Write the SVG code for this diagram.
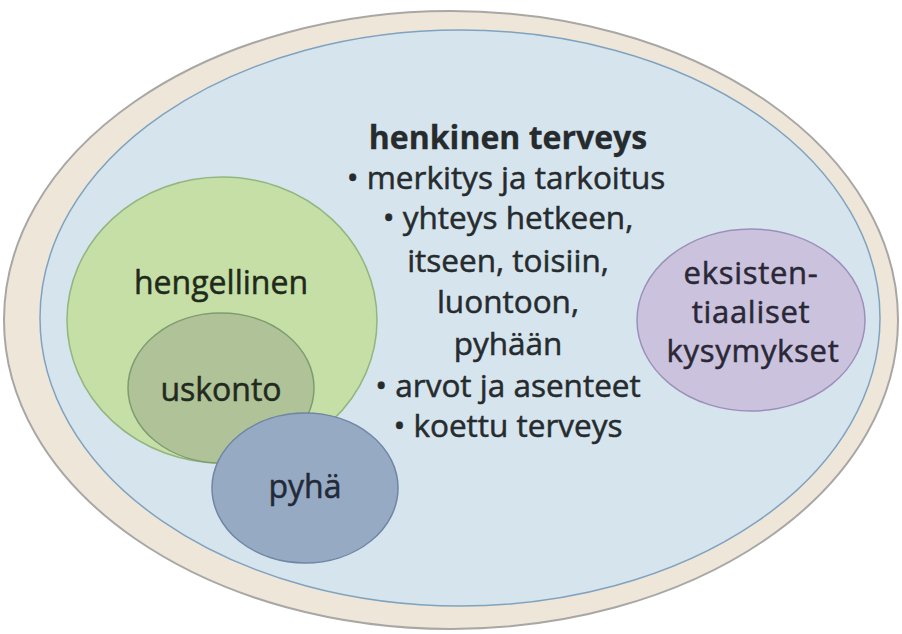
<svg xmlns="http://www.w3.org/2000/svg" width="902" height="634" viewBox="0 0 902 634">
  <style>
    .lbl { font-family: "Open Sans", "Noto Sans", sans-serif; font-size: 31.5px; fill: #262b2e; stroke: #262b2e; stroke-width: 0.5px; text-anchor: middle; }
    .big { font-size: 32px; }
    .ek { font-size: 31px; letter-spacing: 0.7px; fill: #2a2836; stroke: #2a2836; }
    .title { font-weight: bold; font-size: 32px; stroke-width: 0.3px; }
  </style>
  <rect width="902" height="634" fill="#ffffff"/>
  <!-- outer frame -->
  <g id="outer">
    <ellipse cx="451" cy="320" rx="447" ry="309" fill="#efe6da" stroke="#a9a7a4" stroke-width="2"/>
  </g>
  <!-- main area: henkinen terveys -->
  <g id="henkinen-terveys">
    <ellipse cx="460" cy="318" rx="420" ry="288" fill="#d6e4ed" stroke="#7fa3bf" stroke-width="1.5"/>
    <text class="lbl title" x="508" y="149">henkinen terveys</text>
    <text class="lbl" x="506" y="189">• merkitys ja tarkoitus</text>
    <text class="lbl" x="508" y="229">• yhteys hetkeen,</text>
    <text class="lbl" x="508" y="272">itseen, toisiin,</text>
    <text class="lbl" x="508" y="313">luontoon,</text>
    <text class="lbl" x="508" y="355">pyhään</text>
    <text class="lbl" x="508" y="397">• arvot ja asenteet</text>
    <text class="lbl" x="508" y="437">• koettu terveys</text>
  </g>
  <g id="hengellinen">
    <ellipse cx="222" cy="320" rx="155" ry="143" fill="#c6dfa6" stroke="#93b57f" stroke-width="1.5"/>
    <text class="lbl big" x="221" y="294" style="fill:#1f2a1b;stroke:#1f2a1b">hengellinen</text>
  </g>
  <g id="uskonto">
    <ellipse cx="221" cy="388" rx="93" ry="75" fill="#afc298" stroke="#7d9c70" stroke-width="1.5"/>
    <text class="lbl big" x="221" y="401" style="fill:#222a1e;stroke:#222a1e">uskonto</text>
  </g>
  <g id="pyha">
    <ellipse cx="305" cy="488" rx="93" ry="75" fill="#97aac3" stroke="#6f86a4" stroke-width="1.5"/>
    <text class="lbl big" x="305" y="498" style="fill:#232938;stroke:#232938">pyhä</text>
  </g>
  <g id="eksistentiaaliset">
    <ellipse cx="751" cy="320" rx="114" ry="91" fill="#cbc2dd" stroke="#9c8fba" stroke-width="1.5"/>
    <text class="lbl ek" x="751" y="284">eksisten-</text>
    <text class="lbl ek" x="751" y="323">tiaaliset</text>
    <text class="lbl ek" x="753" y="362">kysymykset</text>
  </g>
  <g id="connectors"></g>
</svg>
